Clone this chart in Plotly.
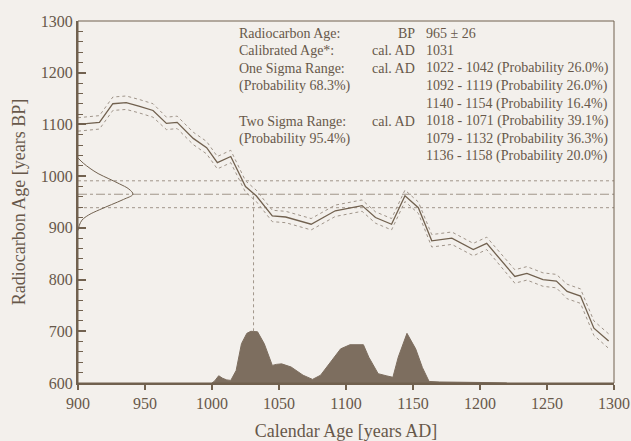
import plotly.graph_objects as go

# calibration curve (centre line)
cal_year = [900, 916, 926, 936, 946, 956, 966, 974, 986, 996, 1004, 1014, 1025, 1033,
            1045, 1055, 1074, 1092, 1112, 1122, 1134, 1144, 1154, 1161, 1164, 1179,
            1195, 1205, 1226, 1235, 1247, 1257, 1265, 1275, 1285, 1296]
cal_bp = [1100, 1104, 1140, 1142, 1135, 1127, 1102, 1104, 1073, 1055, 1026, 1038, 980, 962,
          923, 921, 907, 933, 943, 920, 907, 962, 939, 894, 875, 880,
          858, 870, 806, 812, 800, 797, 777, 768, 706, 681]
cal_err = [13, 13, 13, 13, 13, 13, 12, 12, 12, 12, 12, 12, 11, 11,
           11, 11, 11, 11, 11, 11, 11, 11, 11, 12, 12, 12,
           12, 12, 13, 13, 13, 13, 14, 14, 14, 14]

# measured radiocarbon age
bp_age = 965
bp_err = 26
cal_age = 1031

# radiocarbon age distribution drawn on the left (width in years)
gauss_bp = [1035, 1025, 1015, 1005, 995, 985, 975, 965, 955, 945, 935, 925, 915, 905, 895]
gauss_w = [0, 4, 9, 15, 23, 31, 38, 41, 34, 25, 16, 8, 3, 1, 0]

# calibrated probability distribution (height above the 600 baseline)
prob_year = [1000, 1002, 1005, 1008, 1011, 1014, 1018, 1022, 1026, 1029, 1034, 1039,
             1045, 1048, 1052, 1059, 1068, 1075, 1081, 1089, 1096, 1103, 1113, 1117,
             1124, 1130, 1135, 1139, 1145.5, 1152, 1157, 1162, 1170, 1200, 1220]
prob_h = [0, 4, 14, 9, 6, 5, 24, 76, 96, 100, 99, 76,
          34, 36, 37, 31, 15, 7, 15, 43, 66, 74, 74, 50,
          18, 14, 11, 50, 96, 66, 30, 3, 2, 1, 0]

label_col = ["Radiocarbon Age:", "Calibrated Age*:", "One Sigma Range:", "(Probability 68.3%)",
             "", "Two Sigma Range:", "(Probability 95.4%)", ""]
unit_col = ["BP", "cal. AD", "cal. AD", "", "", "cal. AD", "", ""]
value_col = ["965 ± 26", "1031", "1022 - 1042 (Probability 26.0%)",
             "1092 - 1119 (Probability 26.0%)", "1140 - 1154 (Probability 16.4%)",
             "1018 - 1071 (Probability 39.1%)", "1079 - 1132 (Probability 36.3%)",
             "1136 - 1158 (Probability 20.0%)"]

BG = "#f3f0ec"
INK = "#71614f"
FILL = "#7d6e5f"
LIGHT = "#a0958a"
TEXT = "#67584a"
base = 600

fig = go.Figure()

fig.add_trace(go.Scatter(
    x=prob_year, y=[base + h for h in prob_h], mode="lines",
    line=dict(color=FILL, width=1), fill="tozeroy", fillcolor=FILL,
))

for yv, dash in [(bp_age + bp_err, "dot"), (bp_age, "dashdot"), (bp_age - bp_err, "dot")]:
    fig.add_trace(go.Scatter(x=[900, 1300], y=[yv, yv], mode="lines",
                             line=dict(color=LIGHT, width=1, dash=dash)))

fig.add_trace(go.Scatter(x=[cal_age, cal_age], y=[base + max(prob_h), bp_age], mode="lines",
                         line=dict(color=LIGHT, width=1, dash="dot")))

upper = [b + e for b, e in zip(cal_bp, cal_err)]
lower = [b - e for b, e in zip(cal_bp, cal_err)]
for ys in (upper, lower):
    fig.add_trace(go.Scatter(x=cal_year, y=ys, mode="lines",
                             line=dict(color=LIGHT, width=1, dash="dot")))
fig.add_trace(go.Scatter(x=cal_year, y=cal_bp, mode="lines", line=dict(color=INK, width=1.3)))

fig.add_trace(go.Scatter(x=[900 + w for w in gauss_w], y=gauss_bp, mode="lines",
                         line=dict(color=INK, width=1, shape="spline")))

txt = dict(family="Liberation Serif", size=14, color=TEXT)
y0, step = 0.966, 0.0486
for i, (a, b, c) in enumerate(zip(label_col, unit_col, value_col)):
    yy = y0 - i * step
    if a:
        fig.add_annotation(x=0.297, y=yy, xref="paper", yref="paper", text=a, showarrow=False,
                           xanchor="left", yanchor="middle", font=txt)
    if b:
        fig.add_annotation(x=0.633, y=yy, xref="paper", yref="paper", text=b, showarrow=False,
                           xanchor="right", yanchor="middle", font=txt)
    if c:
        fig.add_annotation(x=0.645, y=yy, xref="paper", yref="paper", text=c, showarrow=False,
                           xanchor="left", yanchor="middle", font=txt)

fig.add_shape(type="rect", xref="paper", yref="paper", x0=0, x1=1, y0=0, y1=1,
              line=dict(color=INK, width=1), layer="above")

fig.update_layout(
    width=631, height=441,
    paper_bgcolor=BG, plot_bgcolor=BG,
    showlegend=False,
    margin=dict(l=78, r=17, t=21, b=58),
    font=dict(family="Liberation Serif", size=16, color=TEXT),
)
fig.update_xaxes(
    range=[900, 1300], tickvals=list(range(900, 1301, 50)), automargin=False,
    showline=True, linewidth=2, linecolor=INK, showgrid=False, zeroline=False,
    ticks="outside", ticklen=5, tickwidth=1.5, tickcolor=INK,
    title=dict(text="Calendar Age [years AD]", font=dict(size=18), standoff=13),
)
fig.update_yaxes(
    range=[600, 1300], dtick=100, automargin=False,
    showline=True, linewidth=2, linecolor=INK, showgrid=False, zeroline=False,
    ticks="inside", ticklen=8, tickwidth=1.5, tickcolor=INK,
    minor=dict(ticks="inside", ticklen=5, dtick=20, tickcolor=INK, tickwidth=1, showgrid=False),
    title=dict(text="Radiocarbon Age [years BP]", font=dict(size=18), standoff=10),
)

# drop the page's default body margin so the figure sits at the window corner
fig.write_html(
    "out.html",
    config={"displayModeBar": False},
    post_script=f"document.body.style.margin='0';document.body.style.background='{BG}';",
)
